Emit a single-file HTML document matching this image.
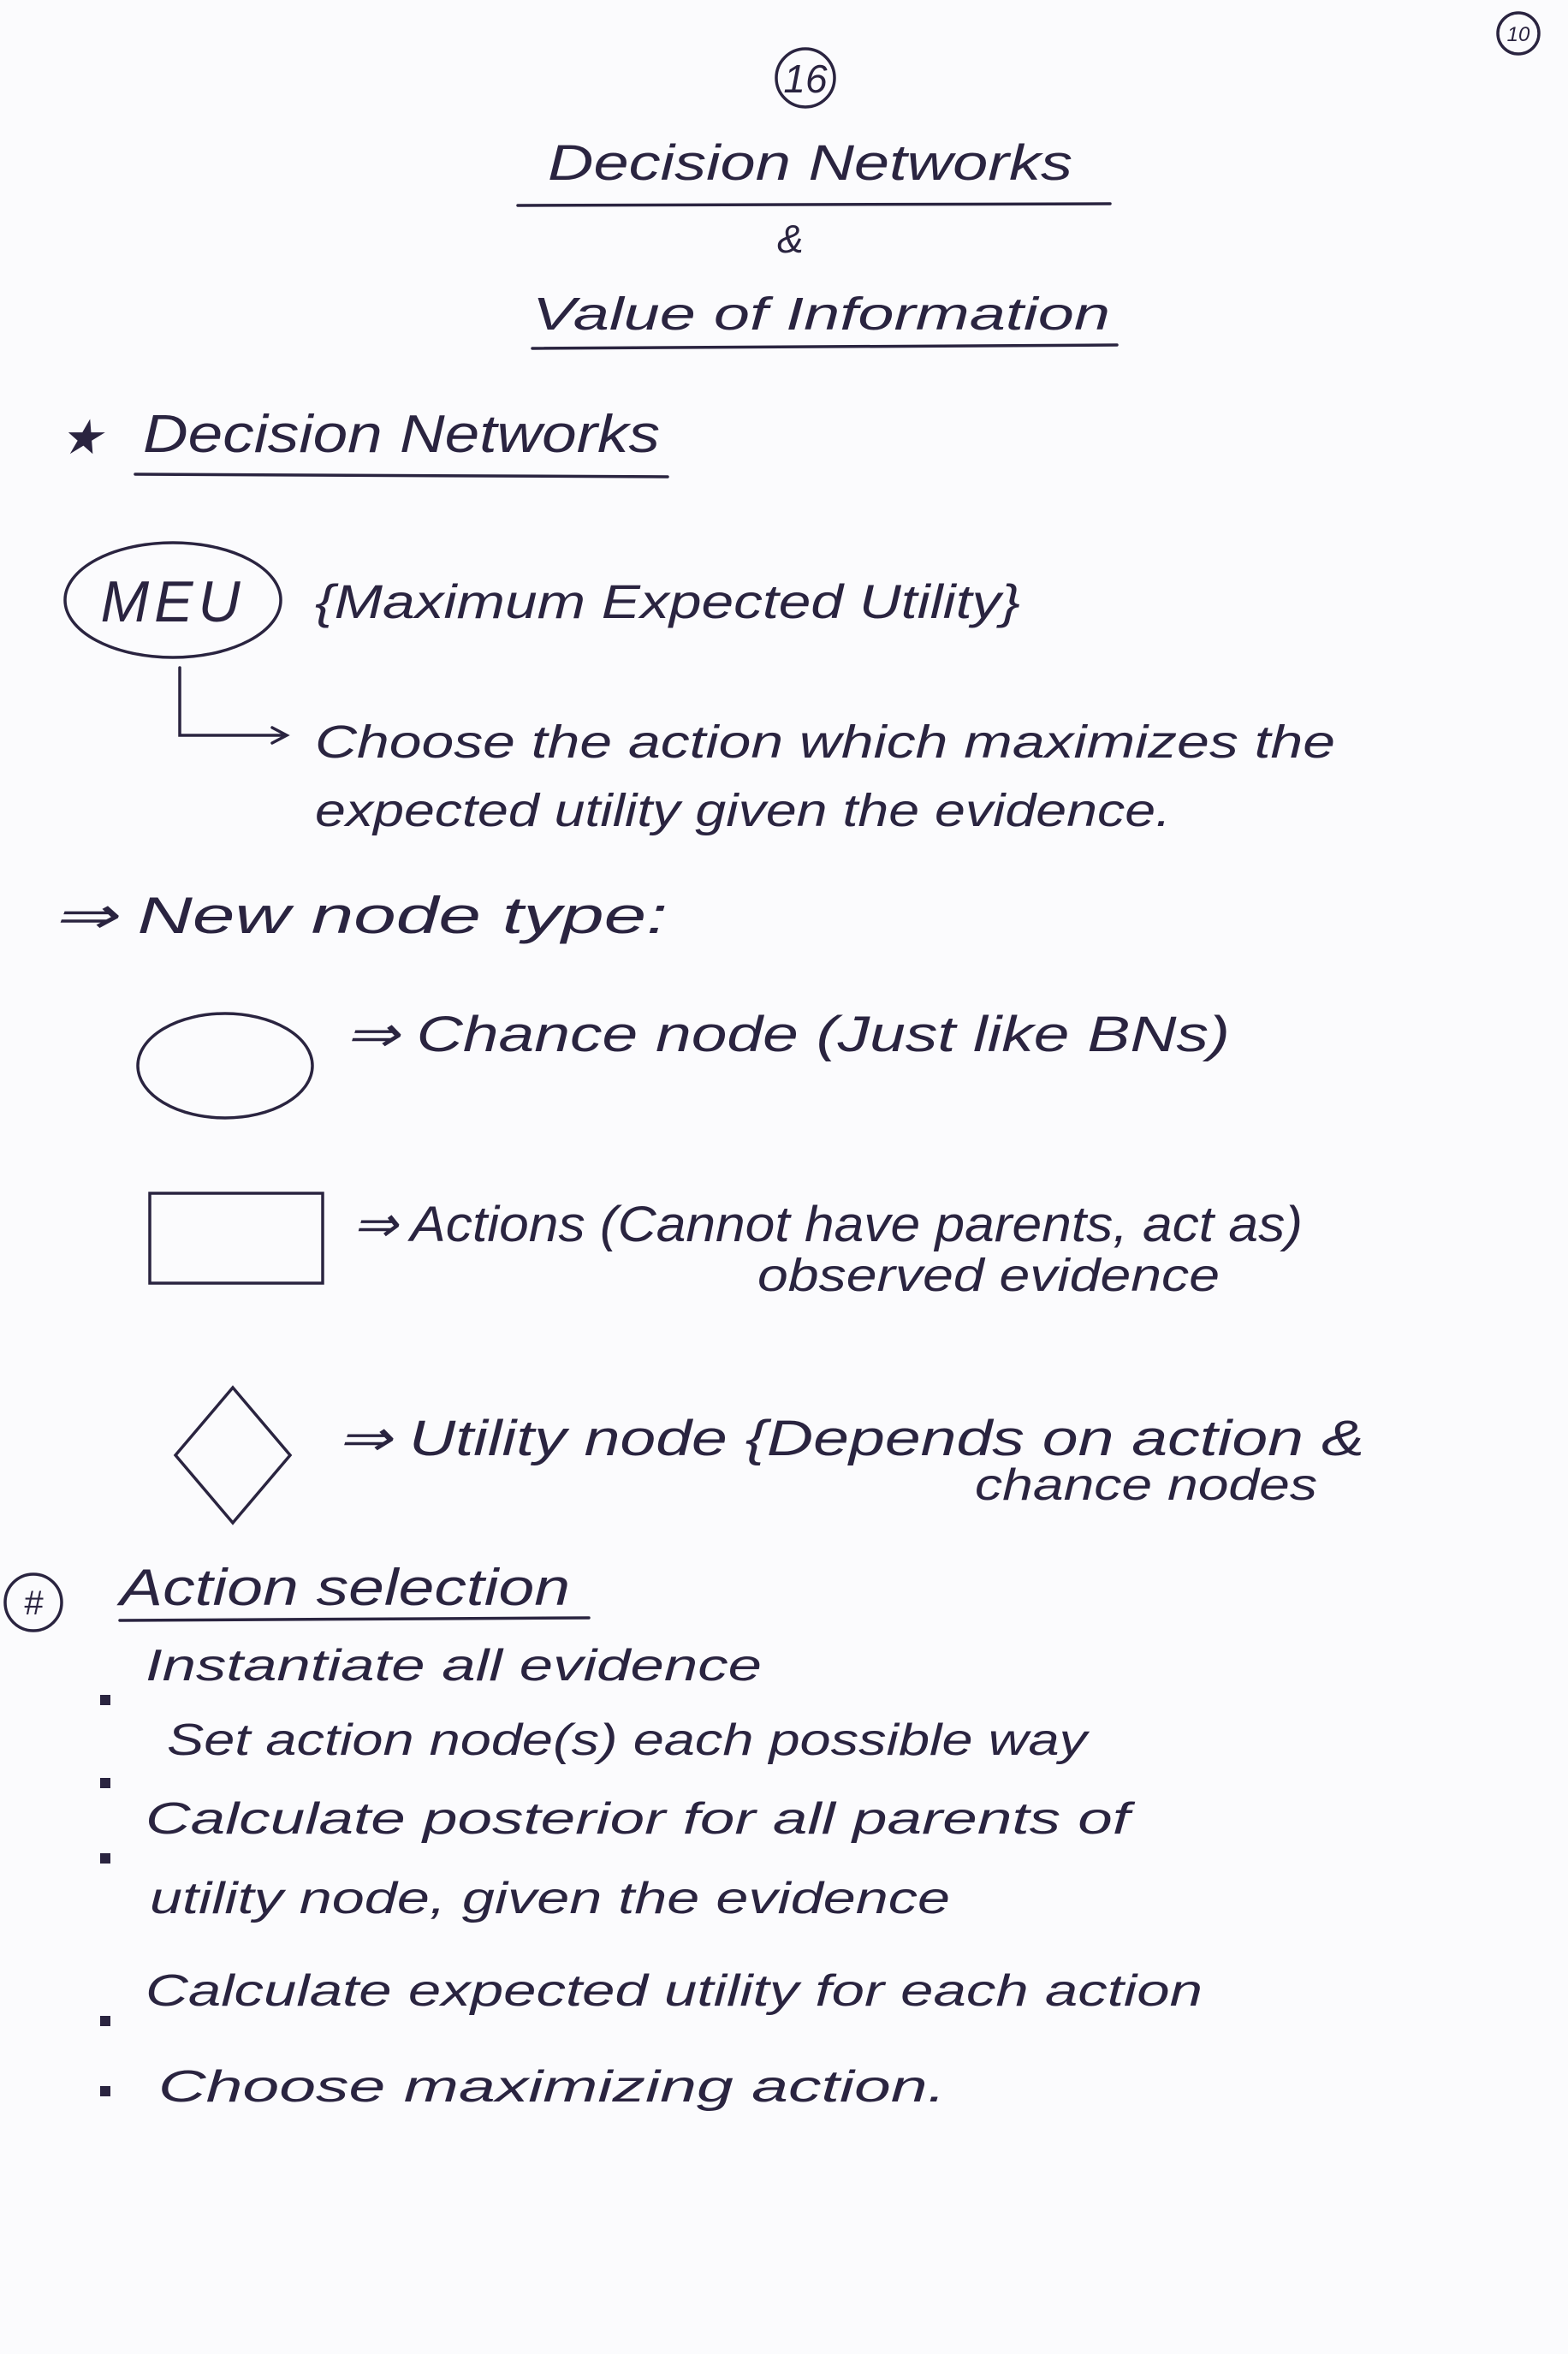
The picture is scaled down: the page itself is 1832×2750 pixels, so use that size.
<!DOCTYPE html>
<html><head><meta charset="utf-8"><style>
html,body{margin:0;padding:0;background:#fbfbfd;}
svg{display:block;}
text{font-family:"Liberation Sans",sans-serif;font-style:italic;fill:#2a2440;}
</style></head><body>
<svg width="1832" height="2750" viewBox="0 0 1832 2750" xmlns="http://www.w3.org/2000/svg">
<rect width="1832" height="2750" fill="#fbfbfd"/>
<g stroke="#2a2440" stroke-width="3.5" fill="none" stroke-linecap="round">
<circle cx="1774" cy="39" r="24"/>
<circle cx="941" cy="91" r="34"/>
<line x1="605" y1="240" x2="1297" y2="238"/>
<line x1="622" y1="407" x2="1305" y2="403"/>
<line x1="158" y1="554" x2="780" y2="557"/>
<ellipse cx="202" cy="701" rx="126" ry="67"/>
<path d="M210 780 L210 859 L333 859"/>
<path d="M318 850 L335 859 L318 868"/>
<ellipse cx="263" cy="1245" rx="102" ry="61"/>
<rect x="175" y="1394" width="202" height="105"/>
<path d="M272 1621 L339 1700 L272 1779 L205 1700 Z"/>
<circle cx="39" cy="1872" r="33"/>
<line x1="140" y1="1893" x2="688" y2="1890"/>
</g>
<text x="1774" y="48" font-size="24" text-anchor="middle" font-style="normal">10</text>
<text x="941" y="108" font-size="46" text-anchor="middle" font-style="normal">16</text>
<text x="640" y="210" font-size="58" textLength="613" lengthAdjust="spacingAndGlyphs">Decision Networks</text>
<text x="908" y="295" font-size="46">&amp;</text>
<text x="622" y="385" font-size="54" textLength="675" lengthAdjust="spacingAndGlyphs">Value of Information</text>
<text x="70" y="530" font-size="56" font-style="normal">★</text>
<text x="167" y="528" font-size="62" textLength="604" lengthAdjust="spacingAndGlyphs">Decision Networks</text>
<text x="202" y="726" font-size="68" text-anchor="middle" font-style="normal" letter-spacing="6">MEU</text>
<text x="368" y="722" font-size="56" textLength="824" lengthAdjust="spacingAndGlyphs">{Maximum Expected Utility}</text>
<text x="368" y="885" font-size="54" textLength="1192" lengthAdjust="spacingAndGlyphs">Choose the action which maximizes the</text>
<text x="368" y="965" font-size="54" textLength="1000" lengthAdjust="spacingAndGlyphs">expected utility given the evidence.</text>
<text x="61" y="1090" font-size="60" textLength="719" lengthAdjust="spacingAndGlyphs">⇒ New node type:</text>
<text x="403" y="1228" font-size="58" textLength="1034" lengthAdjust="spacingAndGlyphs">⇒ Chance node (Just like BNs)</text>
<text x="412" y="1450" font-size="58" textLength="1110" lengthAdjust="spacingAndGlyphs">⇒ Actions (Cannot have parents, act as)</text>
<text x="885" y="1508" font-size="54" textLength="540" lengthAdjust="spacingAndGlyphs">observed evidence</text>
<text x="394" y="1700" font-size="58" textLength="1200" lengthAdjust="spacingAndGlyphs">⇒ Utility node {Depends on action &amp;</text>
<text x="1139" y="1752" font-size="52" textLength="400" lengthAdjust="spacingAndGlyphs">chance nodes</text>
<text x="39" y="1886" font-size="40" text-anchor="middle" font-style="normal">#</text>
<text x="140" y="1875" font-size="60" textLength="526" lengthAdjust="spacingAndGlyphs">Action selection</text>
<g fill="#2a2440">
<rect x="117" y="1980" width="12" height="12"/>
<rect x="117" y="2077" width="12" height="12"/>
<rect x="117" y="2165" width="12" height="12"/>
<rect x="117" y="2355" width="12" height="12"/>
<rect x="117" y="2437" width="12" height="12"/>
</g>
<text x="170" y="1963" font-size="52" textLength="720" lengthAdjust="spacingAndGlyphs">Instantiate all evidence</text>
<text x="195" y="2050" font-size="52" textLength="1075" lengthAdjust="spacingAndGlyphs">Set action node(s) each possible way</text>
<text x="170" y="2142" font-size="52" textLength="1150" lengthAdjust="spacingAndGlyphs">Calculate posterior for all parents of</text>
<text x="175" y="2235" font-size="52" textLength="935" lengthAdjust="spacingAndGlyphs">utility node, given the evidence</text>
<text x="170" y="2343" font-size="52" textLength="1235" lengthAdjust="spacingAndGlyphs">Calculate expected utility for each action</text>
<text x="185" y="2455" font-size="52" textLength="920" lengthAdjust="spacingAndGlyphs">Choose maximizing action.</text>
</svg>
</body></html>
